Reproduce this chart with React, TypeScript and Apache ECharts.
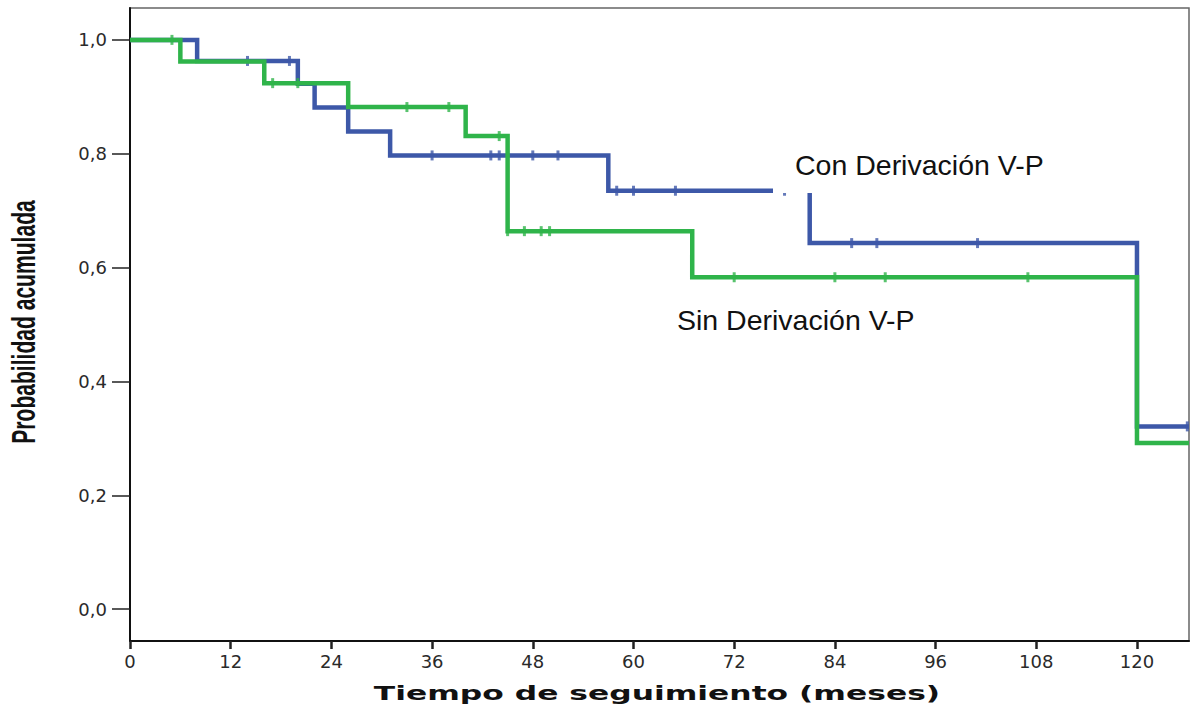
import React, { useEffect, useRef } from "react";
import * as echarts from "echarts";

// Axis ticks
const xTicks = [0, 12, 24, 36, 48, 60, 72, 84, 96, 108, 120];
const yTicks = [0, 0.2, 0.4, 0.6, 0.8, 1.0];

// Kaplan–Meier steps: [month, cumulative probability]
const conSteps: [number, number][] = [
  [0, 1], [8, 0.963], [20, 0.923], [22, 0.881], [26, 0.839], [31, 0.797],
  [57, 0.735], [81, 0.643], [120, 0.321], [126.2, 0.321],
];
const sinSteps: [number, number][] = [
  [0, 1], [6, 0.962], [16, 0.924], [26, 0.882], [40, 0.831], [45, 0.664],
  [67, 0.583], [120, 0.292], [126.2, 0.292],
];

// Censored observations (months)
const conCensored = [14, 19, 36, 43, 44, 45, 48, 51, 58, 60, 65, 78, 86, 89, 101, 126];
const sinCensored = [5, 17, 20, 33, 38, 44, 45, 47, 49, 50, 72, 84, 90, 107];

const BLUE = "#3d58a8";
const GREEN = "#2fb44a";

// Survival level of a step curve at time t
function levelAt(steps: [number, number][], t: number): number {
  let v = steps[0][1];
  for (const [x, y] of steps) if (x <= t) v = y;
  return v;
}

export default function App() {
  const ref = useRef<HTMLDivElement>(null);

  useEffect(() => {
    document.body.style.margin = "0";
    const chart = echarts.init(ref.current!, undefined, { renderer: "svg" });
    const tickFont = { fontSize: 18, fontFamily: "DejaVu Sans", color: "#2a2a2a" };

    chart.setOption({
      animation: false,
      grid: {
        left: 130, right: 7, top: 8, bottom: 69,
        show: true, borderColor: "#666", borderWidth: 1.5,
      },
      xAxis: {
        type: "value", min: 0, max: 126.2,
        axisLine: { show: true, onZero: false, lineStyle: { color: "#111", width: 2 } },
        axisTick: { show: true, customValues: xTicks, length: 8, lineStyle: { color: "#222", width: 2.5 } },
        axisLabel: { customValues: xTicks, margin: 11, ...tickFont },
        splitLine: { show: false },
      },
      yAxis: {
        type: "value", min: -0.056, max: 1.056,
        axisLine: { show: true, onZero: false, lineStyle: { color: "#111", width: 2 } },
        axisTick: { show: true, customValues: yTicks, length: 18, lineStyle: { color: "#222", width: 1.5 } },
        axisLabel: {
          customValues: yTicks, margin: 23, ...tickFont,
          formatter: (v: number) => v.toFixed(1).replace(".", ","),
        },
        splitLine: { show: false },
      },
      series: [
        {
          type: "line", name: "Con Derivación V-P", step: "end", data: conSteps,
          showSymbol: false, lineStyle: { color: BLUE, width: 4.5, join: "miter" },
          itemStyle: { color: BLUE }, z: 2,
        },
        {
          type: "scatter", data: conCensored.map((t) => [t, levelAt(conSteps, t)]),
          symbol: "rect", symbolSize: [3, 10], itemStyle: { color: BLUE }, z: 3,
        },
        {
          type: "line", name: "Sin Derivación V-P", step: "end", data: sinSteps,
          showSymbol: false, lineStyle: { color: GREEN, width: 4.5, join: "miter" },
          itemStyle: { color: GREEN }, z: 4,
        },
        {
          type: "scatter", data: sinCensored.map((t) => [t, levelAt(sinSteps, t)]),
          symbol: "rect", symbolSize: [3, 10], itemStyle: { color: GREEN }, z: 5,
        },
      ],
      graphic: [
        { type: "rect", shape: { x: 773, y: 140, width: 290, height: 53 }, style: { fill: "#fff" }, z: 100 },
        {
          type: "text", x: 795, y: 165, z: 101,
          style: { text: "Con Derivación V-P", fontSize: 28.5, fontFamily: "Liberation Sans, Arial, sans-serif", fill: "#111", align: "left", verticalAlign: "middle" },
        },
        {
          type: "text", x: 677, y: 320, z: 101,
          style: { text: "Sin Derivación V-P", fontSize: 28.5, fontFamily: "Liberation Sans, Arial, sans-serif", fill: "#111", align: "left", verticalAlign: "middle" },
        },
        {
          type: "text", x: 657, y: 693, scaleX: 1.65, z: 101,
          style: { text: "Tiempo de seguimiento (meses)", fontSize: 19, fontWeight: "bold", fontFamily: "DejaVu Sans", fill: "#111", align: "center", verticalAlign: "middle" },
        },
        {
          type: "text", x: 23, y: 322, rotation: Math.PI / 2, scaleX: 0.62, z: 101,
          style: { text: "Probabilidad acumulada", fontSize: 34, fontWeight: "bold", fontFamily: "Liberation Sans, Arial, sans-serif", fill: "#111", align: "center", verticalAlign: "middle" },
        },
      ],
    });

    return () => chart.dispose();
  }, []);

  return <div ref={ref} style={{ width: 1196, height: 710 }} />;
}
